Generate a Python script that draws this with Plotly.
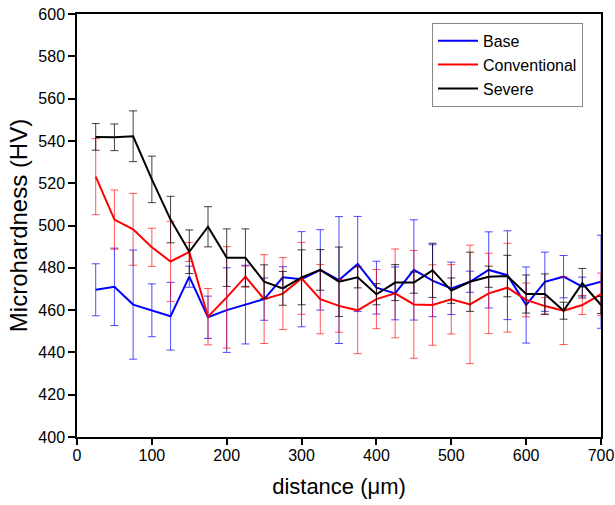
import plotly.graph_objects as go

distance = [25, 50, 75, 100, 125, 150, 175, 200, 225, 250, 275, 300, 325, 350,
            375, 400, 425, 450, 475, 500, 525, 550, 575, 600, 625, 650, 675, 700]

base = [469.6, 471.0, 462.6, 459.9, 457.1, 475.8, 456.6, 460.0, 462.6, 465.2,
        475.5, 474.6, 479.0, 474.2, 481.8, 470.6, 467.9, 479.0, 473.9, 470.3,
        473.4, 479.0, 476.5, 462.4, 473.4, 475.8, 471.1, 473.4]
base_err = [12.3, 18.3, 25.8, 12.5, 16.0, 5.0, 10.0, 20.0, 18.6, 10.0,
            5.0, 22.5, 19.0, 30.0, 22.5, 12.5, 12.5, 23.7, 17.0, 12.4,
            5.0, 18.0, 21.0, 18.0, 14.0, 10.0, 4.5, 22.0]

conventional = [523.1, 502.8, 498.2, 489.7, 483.0, 487.5, 456.9, 466.0, 475.8, 465.2,
                467.8, 475.0, 465.2, 462.0, 459.9, 465.2, 467.9, 462.7, 462.4, 465.1,
                462.7, 467.9, 470.6, 464.8, 461.9, 459.7, 462.4, 467.5]
conventional_err = [18.0, 14.0, 17.0, 9.0, 19.0, 4.5, 13.3, 24.0, 5.0, 21.0,
                    17.0, 17.0, 16.4, 12.5, 20.5, 14.0, 21.0, 25.5, 19.0, 16.4,
                    28.0, 19.0, 21.0, 8.0, 4.0, 16.0, 4.5, 10.0]

severe = [541.9, 541.7, 542.2, 521.8, 502.8, 487.6, 499.4, 484.8, 484.8, 473.4,
          470.3, 475.5, 479.0, 473.4, 475.5, 467.5, 473.0, 473.0, 478.8, 469.2,
          473.4, 475.8, 476.1, 467.6, 467.6, 459.7, 472.7, 462.4]
severe_err = [6.3, 6.3, 12.0, 11.0, 11.0, 10.3, 9.5, 13.6, 13.6, 8.0,
              8.0, 13.0, 9.6, 16.4, 5.0, 5.0, 8.5, 5.0, 12.8, 6.0,
              14.0, 5.0, 9.8, 9.0, 9.5, 4.0, 7.0, 4.0]

series = [
    ("Base", base, base_err, "#0000ff", "rgba(0,0,255,0.7)"),
    ("Conventional", conventional, conventional_err, "#ff0000", "rgba(255,0,0,0.65)"),
    ("Severe", severe, severe_err, "#000000", "rgba(0,0,0,0.75)"),
]

fig = go.Figure()
for name, vals, errs, col, ecol in series:
    fig.add_trace(go.Scatter(
        x=distance, y=vals, name=name, mode="lines",
        line=dict(color=col, width=2),
        error_y=dict(type="data", array=errs, visible=True,
                     color=ecol, thickness=1, width=4),
    ))

font = "Liberation Sans, Arial, sans-serif"
fig.update_layout(
    width=615, height=505,
    margin=dict(l=77, r=14, t=14, b=68),
    paper_bgcolor="white", plot_bgcolor="white",
    font=dict(family=font, color="black", size=16),
    showlegend=True,
    legend=dict(x=0.6775, y=0.979, xanchor="left", yanchor="top",
                bgcolor="white", bordercolor="#888888", borderwidth=1,
                font=dict(size=16, family=font), tracegroupgap=0,
                itemwidth=40),
)
fig.update_xaxes(
    range=[0, 700], dtick=100, showgrid=False, zeroline=False, automargin=False,
    showline=True, linecolor="black", linewidth=1.5, mirror=True,
    ticks="outside", ticklen=6, tickwidth=1.5, tickcolor="black",
    tickfont=dict(size=16), ticklabelstandoff=-3, ticklabeloverflow="allow",
    title=dict(text="distance (\u03bcm)", font=dict(size=22), standoff=16),
)
fig.update_yaxes(
    range=[400, 600], dtick=20, showgrid=False, zeroline=False, automargin=False,
    showline=True, linecolor="black", linewidth=1.5, mirror=True,
    ticks="outside", ticklen=7, tickwidth=1.5, tickcolor="black",
    tickfont=dict(size=16), ticklabeloverflow="allow",
    title=dict(text="Microhardness (HV)", font=dict(size=24), standoff=4),
)
# remove the browser's default 8px body margin so the figure fills the window
fig.write_html("out.html", config={"displayModeBar": False},
               post_script="document.body.style.margin='0';")
